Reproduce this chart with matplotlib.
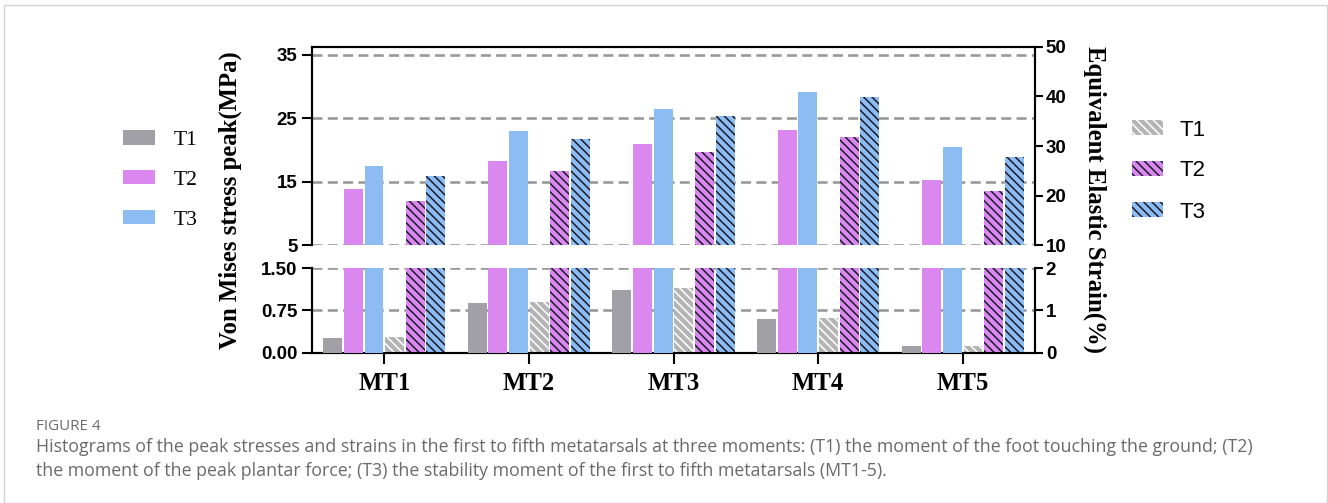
import numpy as np
import matplotlib
matplotlib.use('Agg')
import matplotlib.pyplot as plt
from matplotlib.patches import Patch, Rectangle

# Peak values per metatarsal
groups = ['MT1', 'MT2', 'MT3', 'MT4', 'MT5']
moments = ['T1', 'T2', 'T3']

# Von Mises stress peak (MPa)
stress_t1 = [0.27, 0.88, 1.11, 0.60, 0.12]
stress_t2 = [13.9, 18.2, 21.0, 23.2, 15.35]
stress_t3 = [17.5, 23.0, 26.4, 29.1, 20.4]

# Equivalent elastic strain (%)
strain_t1 = [0.38, 1.20, 1.53, 0.83, 0.17]
strain_t2 = [19.0, 24.9, 28.7, 31.75, 20.9]
strain_t3 = [24.0, 31.4, 36.0, 39.8, 27.8]

caption_title = 'FIGURE 4'
caption_lines = [
    'Histograms of the peak stresses and strains in the first to fifth metatarsals at three moments: (T1) the moment of the foot touching the ground; (T2)',
    'the moment of the peak plantar force; (T3) the stability moment of the first to fifth metatarsals (MT1-5).',
]

solid_colors = ['#a0a0a6', '#da88f0', '#8cbcf2']
hatch_fill = ['#b4b4b4', '#da88f0', '#8cbcf2']
hatch_line = ['white', '#1a1a2a', '#1a1a2a']
HATCH = '\\\\\\\\'

plt.rcParams['font.family'] = 'Liberation Sans'
plt.rcParams['font.weight'] = 'bold'
plt.rcParams['hatch.linewidth'] = 1.1
plt.rcParams['axes.linewidth'] = 1.5

W, H = 1328, 503
fig = plt.figure(figsize=(W / 100, H / 100), dpi=100)


def fx(px):
    return px / W


def fy(py):
    return 1 - py / H


left, right = 312, 1035
ax_u = fig.add_axes([fx(left), fy(245.3), fx(right - left), 198.6 / H])
ax_l = fig.add_axes([fx(left), fy(352.7), fx(right - left), 84.4 / H])
ax_u2 = ax_u.twinx()
ax_l2 = ax_l.twinx()

x = np.arange(len(groups))
step = 1 / 7
width = 0.131
offsets = (np.arange(6) - 2.5) * step

stress = [stress_t1, stress_t2, stress_t3]
strain = [strain_t1, strain_t2, strain_t3]

for ax, ax2 in [(ax_u, ax_u2), (ax_l, ax_l2)]:
    for i in range(3):
        ax.bar(x + offsets[i], stress[i], width, color=solid_colors[i],
               linewidth=0, zorder=3)
        ax2.bar(x + offsets[i + 3], strain[i], width, facecolor=hatch_fill[i],
                edgecolor=hatch_line[i], hatch=HATCH, linewidth=0, zorder=3)
    ax.set_xlim(-0.5, 4.5)
    ax2.set_xlim(-0.5, 4.5)
    ax.set_zorder(ax2.get_zorder() + 1)
    ax.patch.set_visible(False)

grid_style = dict(color='#999999', linewidth=1.9, linestyle=(0, (3.8, 2.0)), zorder=1)

# upper panel
ax_u.set_ylim(5, 36.25)
ax_u.set_yticks([5, 15, 25, 35])
ax_u2.set_ylim(10, 50)
ax_u2.set_yticks([10, 20, 30, 40, 50])
for v in [5, 15, 25, 35]:
    ax_u2.axhline(10 + (v - 5) * 40 / 31.25, **grid_style)
ax_u.spines['bottom'].set_visible(False)
ax_u2.spines['bottom'].set_visible(False)
ax_u.tick_params(axis='x', bottom=False, labelbottom=False)

# lower panel
ax_l.set_ylim(0, 1.5)
ax_l.set_yticks([0, 0.75, 1.5])
ax_l.set_yticklabels(['0.00', '0.75', '1.50'])
ax_l2.set_ylim(0, 2)
ax_l2.set_yticks([0, 1, 2])
for v in [0.75, 1.5]:
    ax_l2.axhline(v * 2 / 1.5, **grid_style)
ax_l.spines['top'].set_visible(False)
ax_l2.spines['top'].set_visible(False)
ax_l.set_xticks(x)
ax_l.set_xticklabels(groups, fontfamily='Liberation Serif', fontweight='bold',
                     fontsize=17.8)
ax_l.tick_params(axis='x', length=8, width=1.5, pad=6)

for ax in (ax_u, ax_l):
    ax.tick_params(axis='y', length=7, width=1.5, pad=3.5, labelsize=13.5)
for ax in (ax_u2, ax_l2):
    ax.tick_params(axis='y', length=5.8, width=1.5, pad=2, labelsize=13.5)
    ax.tick_params(axis='x', bottom=False, labelbottom=False)

fig.text(fx(230), fy(200), 'Von Mises stress peak(MPa)', rotation=90,
         ha='center', va='center', family='Liberation Serif',
         fontweight='bold', fontsize=17.8)
fig.text(fx(1095), fy(200), 'Equivalent Elastic Strain(%)', rotation=270,
         ha='center', va='center', family='Liberation Serif',
         fontweight='bold', fontsize=17.8)

# legends
solid_handles = [Patch(facecolor=c, linewidth=0) for c in solid_colors]
hatch_handles = [Patch(facecolor=hatch_fill[i], edgecolor=hatch_line[i],
                       hatch=HATCH, linewidth=0) for i in range(3)]
fig.legend(solid_handles, moments, loc='center left',
           bbox_to_anchor=(fx(123), fy(180)), frameon=False, borderpad=0,
           borderaxespad=0, handlelength=1.49, handleheight=0.65,
           handletextpad=0.84, labelspacing=0.94,
           prop={'family': 'Liberation Serif', 'weight': 'normal', 'size': 15.5})
fig.legend(hatch_handles, moments, loc='center left',
           bbox_to_anchor=(fx(1132), fy(171)), frameon=False, borderpad=0,
           borderaxespad=0, handlelength=1.4, handleheight=0.65,
           handletextpad=0.75, labelspacing=0.9,
           prop={'family': 'Liberation Sans', 'weight': 'normal', 'size': 16})

# caption
fig.text(fx(36), fy(427), caption_title, ha='left', va='center',
         family='Open Sans', fontweight='normal', fontsize=10.9, color='#6a6a6a')
for i, line in enumerate(caption_lines):
    fig.text(fx(36), fy(447.5 + 23.5 * i), line, ha='left', va='center',
             family='Open Sans', fontweight='normal', fontsize=12.8,
             color='#6a6a6a')

fig.patches.append(Rectangle((fx(4), 0), fx(1323), fy(5), transform=fig.transFigure,
                             fill=False, edgecolor='#d4d4d4', linewidth=1))

fig.savefig('out.png', dpi=100)
